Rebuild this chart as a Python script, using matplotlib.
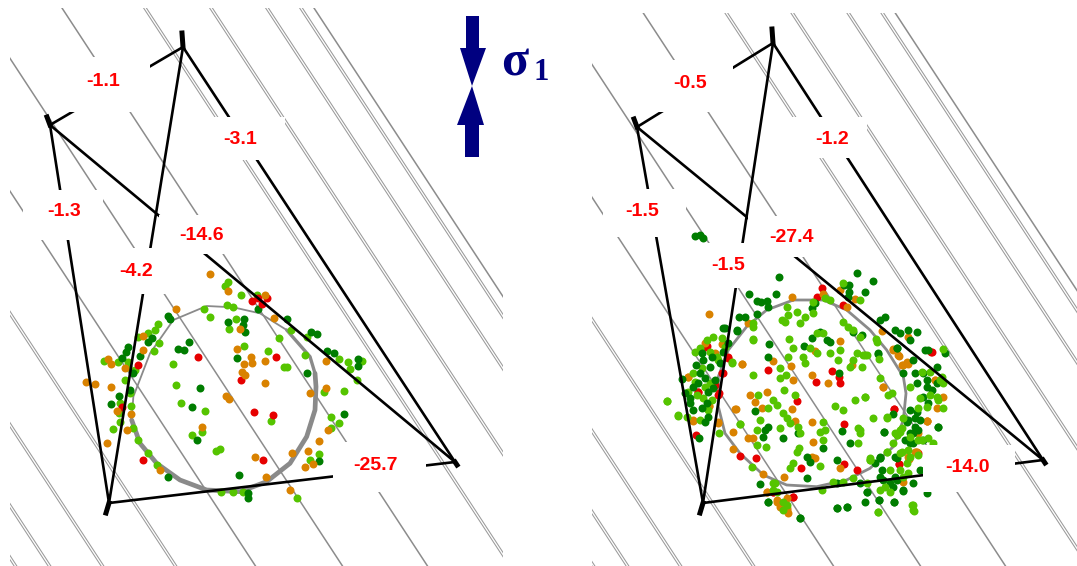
import numpy as np
import matplotlib
matplotlib.use('Agg')
import matplotlib.pyplot as plt
from matplotlib.patches import Polygon, Rectangle

# everything is in image pixels, y going down
DARK = '#007d00'
LIGHT = '#55c400'
ORANGE = '#d98200'
RED = '#e60000'
NAVY = '#000080'

# background lines: x where they cross y=8
BG_SINGLE = [62, -23, -110, 314]
BG_DOUBLE = [145, 211, 267, 301, -190, -263, -316, -350]
BG_SLOPE = 0.655

# triangle corners and their labels
LEFT_CORNERS = [(183, 47), (50, 125), (109, 503), (455, 462)]
RIGHT_CORNERS = [(773, 43), (637, 127), (703, 503), (1043, 460)]
LEFT_LABELS = ['-1.1', '-3.1', '-1.3', '-14.6', '-4.2', '-25.7']
LEFT_LABEL_XY = [(103, 81), (240, 140), (64, 212), (202, 235), (136, 271), (375, 465)]
LEFT_BOXES = [(62, 57, 150, 112), (205, 117, 285, 160), (23, 190, 103, 240),
              (159, 215, 250, 254), (107, 248, 170, 294), (333, 442, 426, 492)]
RIGHT_LABELS = ['-0.5', '-1.2', '-1.5', '-27.4', '-1.5', '-14.0']
RIGHT_LABEL_XY = [(690, 83), (832, 139), (642, 212), (792, 238), (728, 265), (967, 468)]
RIGHT_BOXES = [(650, 60, 733, 112), (792, 117, 867, 158), (603, 189, 686, 237),
               (748, 216, 837, 257), (688, 243, 770, 288), (923, 445, 1015, 492)]

LEFT_CIRCLE_THIN = [(395, 570), (400, 500), (450, 370), (520, 270), (620, 228), (700, 232),
                    (780, 250), (860, 300)]
LEFT_CIRCLE_MID = [(860, 300), (930, 380), (945, 430)]
LEFT_CIRCLE_THICK = [(945, 430), (948, 470), (945, 540), (920, 620), (870, 700), (800, 755),
                     (720, 785), (620, 780), (540, 750), (470, 700), (420, 640), (395, 570)]
RIGHT_CIRCLE = [(460, 240), (380, 270), (320, 320), (265, 390), (235, 470), (235, 560),
                (255, 640), (300, 700), (370, 765), (440, 795), (530, 800), (620, 780),
                (690, 745), (760, 680), (790, 600), (798, 520), (790, 470), (740, 390),
                (690, 330), (620, 270), (550, 240), (460, 240)]

# left panel points, crop at (0, 230)
LEFT_ORANGE = [(630, 132), (683, 182), (795, 195), (529, 238), (822, 263), (428, 317), (428, 360),
               (720, 297), (712, 358), (752, 380), (756, 398), (731, 402), (794, 393), (727, 425),
               (736, 435), (794, 460), (978, 393), (978, 475), (930, 489), (678, 497), (688, 507),
               (258, 456), (284, 461), (332, 470), (325, 388), (332, 403), (375, 415), (350, 542),
               (394, 552), (606, 591), (380, 600), (321, 638), (958, 634), (876, 668), (924, 663),
               (766, 682), (938, 701), (914, 711), (481, 720), (799, 741), (871, 779), (985, 600)]
LEFT_RED = [(593, 382), (828, 382), (722, 451), (761, 547), (819, 556), (790, 691), (428, 691),
            (415, 405), (755, 212), (775, 205), (800, 205), (785, 222), (365, 530)]
LEFT_DARK = [(503, 258), (510, 268), (683, 276), (732, 267), (730, 285), (735, 305), (568, 335),
             (533, 358), (553, 360), (712, 383), (601, 475), (577, 532), (591, 630), (775, 237),
             (862, 267), (932, 305), (950, 312), (982, 363), (1001, 370), (1075, 388), (1075, 407),
             (921, 428), (1031, 552), (358, 498), (332, 522), (385, 350), (378, 365), (365, 385),
             (420, 378), (455, 325), (445, 335), (717, 736), (505, 740), (745, 790), (745, 805),
             (958, 692), (390, 480), (400, 430)]
LEFT_LIGHT = [(685, 155), (675, 168), (722, 195), (770, 195), (611, 238), (680, 224), (698, 230),
              (629, 262), (708, 267), (688, 296), (475, 283), (465, 300), (445, 310), (415, 320),
              (476, 340), (461, 363), (838, 325), (872, 300), (922, 322), (732, 349), (804, 364),
              (519, 402), (915, 374), (852, 412), (862, 412), (1016, 388), (1045, 397), (1050, 418),
              (1085, 392), (1070, 450), (1031, 484), (972, 487), (529, 465), (544, 518), (616, 543),
              (993, 562), (1016, 580), (993, 595), (814, 572), (605, 605), (577, 615), (660, 658),
              (648, 664), (958, 672), (930, 690), (443, 668), (414, 629), (400, 595), (340, 596),
              (470, 704), (664, 785), (700, 785), (730, 785), (891, 803), (312, 393), (355, 397),
              (385, 395), (405, 420), (375, 450), (390, 490), (360, 520), (393, 528), (358, 550),
              (360, 575), (385, 410)]

# right panel points, crop at (640, 220)
MID_DARK = [(165, 48), (180, 45), (190, 55), (418, 170), (651, 160), (700, 184), (627, 195),
            (612, 195), (628, 215), (625, 230), (675, 217), (326, 222), (350, 243), (362, 247),
            (380, 243), (407, 222), (385, 262), (315, 292), (298, 292), (350, 283), (525, 250),
            (515, 265), (255, 325), (292, 332), (735, 290), (720, 300), (765, 330), (780, 340),
            (805, 330), (830, 335), (810, 360), (855, 390), (771, 384), (713, 402), (515, 353),
            (540, 335), (560, 360), (570, 365), (640, 335), (665, 345), (493, 378), (388, 373),
            (385, 410), (598, 460), (345, 573), (375, 630), (370, 650), (385, 620), (428, 655),
            (473, 640), (605, 632), (733, 636), (630, 670), (550, 685), (500, 710), (510, 725),
            (590, 720), (500, 775), (360, 793), (383, 845), (592, 865), (622, 860), (480, 893),
            (763, 845), (717, 840), (680, 815), (790, 810), (820, 790), (840, 750), (720, 715),
            (770, 715), (178, 655), (660, 790), (590, 790), (765, 770), (730, 780), (750, 790)]
MID_LIGHT = [(338, 358), (447, 358), (460, 383), (445, 410), (425, 300), (440, 260), (445, 285),
             (470, 275), (495, 290), (480, 310), (435, 305), (520, 280), (610, 190), (660, 240),
             (555, 235), (570, 240), (520, 245), (610, 305), (625, 320), (640, 330), (660, 350),
             (708, 358), (670, 405), (650, 400), (640, 420), (630, 440), (680, 405), (530, 340),
             (550, 340), (510, 385), (530, 400), (570, 400), (490, 410), (495, 430), (600, 390),
             (595, 420), (340, 465), (420, 445), (437, 465), (420, 475), (432, 510), (465, 525),
             (400, 540), (410, 555), (385, 565), (355, 525), (420, 625), (360, 600), (350, 630),
             (300, 612), (440, 595), (450, 610), (475, 620), (480, 640), (430, 580), (277, 428),
             (338, 322), (82, 544), (115, 586), (238, 640), (378, 680), (350, 675), (540, 635),
             (555, 630), (550, 605), (550, 660), (655, 625), (660, 640), (655, 670), (478, 685),
             (470, 695), (460, 730), (450, 745), (540, 738), (645, 540), (675, 530), (585, 558),
             (610, 570), (742, 592), (780, 630), (770, 645), (740, 695), (690, 720), (335, 742),
             (405, 790), (400, 810), (545, 810), (580, 785), (610, 785), (640, 775), (714, 875),
             (815, 855), (820, 870), (430, 845), (440, 855), (680, 790)]
MID_ORANGE = [(208, 281), (325, 310), (248, 372), (305, 432), (398, 422), (452, 437), (515, 465),
              (563, 490), (460, 480), (525, 393), (601, 364), (636, 436), (728, 500), (775, 405),
              (760, 390), (800, 425), (785, 435), (725, 332), (330, 525), (345, 545), (365, 565),
              (380, 515), (287, 568), (457, 568), (465, 603), (515, 606), (280, 635), (325, 655),
              (340, 655), (518, 665), (515, 710), (525, 715), (280, 688), (370, 762), (432, 772),
              (550, 222), (455, 232), (600, 210), (645, 237), (620, 262), (805, 350), (885, 480),
              (860, 602), (825, 695), (410, 845), (440, 870), (380, 815), (145, 470), (160, 602),
              (208, 558), (235, 605), (600, 745)]
MID_RED = [(197, 380), (264, 413), (248, 460), (383, 451), (471, 544), (529, 485), (576, 452),
           (598, 470), (600, 490), (612, 612), (763, 568), (168, 645), (300, 708), (349, 713),
           (482, 743), (612, 733), (650, 750), (778, 733), (398, 815), (458, 830), (545, 205),
           (530, 232), (610, 255), (875, 395), (835, 700), (175, 515), (238, 520)]

# left cluster of the right panel, crop at (660, 320)
WEST_DARK = [(65, 178), (75, 220), (90, 235), (100, 270), (125, 265), (145, 290), (135, 305),
             (108, 135), (125, 100), (130, 120), (155, 110), (150, 140), (120, 160), (115, 190),
             (135, 175), (165, 180), (160, 205), (100, 200), (145, 215), (180, 130), (190, 25),
             (230, 30), (205, 70), (190, 95), (140, 250), (90, 250)]
WEST_LIGHT = [(105, 95), (120, 85), (140, 60), (160, 50), (185, 55), (195, 80), (150, 95),
              (170, 110), (100, 160), (105, 185), (125, 145), (135, 200), (150, 190), (85, 215),
              (110, 225), (130, 235), (155, 240), (175, 120), (215, 125), (22, 243), (55, 288),
              (80, 290), (120, 300), (145, 270), (240, 313), (280, 60), (280, 10)]
WEST_ORANGE = [(187, 72), (135, 70), (85, 170), (148, 258), (100, 300), (165, 100), (225, 267),
               (245, 132), (175, 308)]
WEST_RED = [(140, 78), (205, 112), (185, 160), (115, 215), (175, 225), (165, 195)]

# right cluster of the right panel, crop at (860, 340)
EAST_DARK = [(55, 40), (110, 25), (160, 60), (130, 100), (165, 100), (190, 100), (205, 30),
             (230, 80), (255, 40), (200, 140), (215, 150), (170, 130), (190, 170), (230, 130),
             (205, 190), (150, 210), (165, 235), (140, 245), (165, 260), (180, 240), (150, 280),
             (135, 300), (160, 310), (190, 300), (72, 275), (233, 262), (100, 222), (60, 352),
             (105, 350), (200, 120), (170, 215)]
EAST_LIGHT = [(15, 45), (5, 80), (58, 58), (60, 115), (95, 160), (14, 170), (85, 165), (150, 140),
              (185, 95), (210, 95), (250, 28), (240, 120), (250, 130), (230, 170), (210, 165),
              (180, 175), (200, 200), (235, 180), (175, 205), (250, 205), (130, 235), (125, 265),
              (110, 285), (100, 310), (80, 335), (150, 290), (185, 300), (38, 233), (82, 233),
              (0, 270), (125, 335), (145, 330), (175, 345), (30, 355), (218, 310), (50, 5),
              (245, 110)]
EAST_ORANGE = [(100, 28), (118, 47), (130, 75), (143, 72), (68, 140), (225, 120), (232, 205),
               (200, 243), (170, 335), (145, 352), (248, 170), (175, 280)]
EAST_RED = [(213, 37), (102, 207)]

# bottom of the right panel, crop at (560, 300)
SOUTH_DARK = [(960, 475), (945, 490), (965, 510), (960, 530), (1010, 540), (1030, 572), (920, 575),
              (915, 605), (958, 600), (1003, 605), (832, 625), (862, 620), (1100, 580), (1045, 360),
              (1060, 400), (1050, 430), (1075, 390), (1133, 382), (1000, 560), (625, 605), (720, 655)]
SOUTH_LIGHT = [(930, 480), (990, 510), (1020, 510), (1040, 490), (1045, 520), (1030, 530), (975, 560),
               (960, 570), (990, 575), (955, 635), (1060, 615), (1062, 632), (1020, 460), (1050, 470),
               (1005, 400), (1020, 395), (1075, 420), (1115, 440), (1105, 415), (670, 630), (640, 550),
               (650, 575)]
SOUTH_ORANGE = [(1047, 478), (1068, 455), (1100, 362), (1030, 545), (660, 620), (680, 625), (650, 600),
                (680, 595), (620, 575), (683, 638)]
SOUTH_RED = [(1017, 493), (1070, 460), (640, 575), (700, 590)]


def crop(points, x0, y0):
    pts = np.array(points, dtype=float)
    return pts[:, 0] / 3 + x0, pts[:, 1] / 3 + y0


def draw_background(ax, shift, clip_box):
    clip = Rectangle((clip_box[0], clip_box[1]), clip_box[2] - clip_box[0], clip_box[3] - clip_box[1],
                     transform=ax.transData)
    ys = np.array([0, 566])
    for x0 in BG_SINGLE:
        line, = ax.plot(x0 + shift + BG_SLOPE * (ys - 8), ys, color='#8c8c8c', lw=1.1, zorder=1)
        line.set_clip_path(clip)
    for x0 in BG_DOUBLE:
        for off in (-1.4, 1.4):
            line, = ax.plot(x0 + off + shift + BG_SLOPE * (ys - 8), ys, color='#9a9a9a', lw=0.75, zorder=1)
            line.set_clip_path(clip)


def draw_triangle(ax, corners, labels, label_xy, boxes):
    for i in range(4):
        for j in range(i + 1, 4):
            ax.plot([corners[i][0], corners[j][0]], [corners[i][1], corners[j][1]],
                    color='black', lw=1.9, zorder=5, solid_capstyle='round')
    for (x, y), (dx, dy) in zip(corners, [(-1, -14), (-3, -8), (-3, 10), (2, 3)]):
        ax.plot([x, x + dx], [y, y + dy], color='black', lw=3.6, zorder=5)
    for (x1, y1, x2, y2) in boxes:
        ax.add_patch(Rectangle((x1, y1), x2 - x1, y2 - y1, facecolor='white', edgecolor='none', zorder=6))
    for text, (x, y) in zip(labels, label_xy):
        ax.text(x, y, text, color='#ff0000', fontsize=14, fontweight='bold', family='Liberation Sans',
                ha='center', va='center', zorder=7)


def dots(ax, xy, color, z):
    ax.scatter(xy[0], xy[1], s=33, color=color, linewidths=0, zorder=z)


fig = plt.figure(figsize=(10.77, 5.66), dpi=100)
ax = fig.add_axes([0, 0, 1, 1])
ax.set_xlim(0, 1077)
ax.set_ylim(566, 0)
ax.axis('off')

draw_background(ax, 0, (10, 8, 503, 566))
draw_background(ax, 578, (592, 13, 1077, 566))

# left panel
for arc, width in ((LEFT_CIRCLE_THIN, 1.3), (LEFT_CIRCLE_MID, 2.4), (LEFT_CIRCLE_THICK, 3.4)):
    x, y = crop(arc, 0, 230)
    ax.plot(x, y, color='#8a8a8a', lw=width, zorder=2, solid_capstyle='round')
dots(ax, crop(LEFT_LIGHT, 0, 230), LIGHT, 3.0)
dots(ax, crop(LEFT_DARK, 0, 230), DARK, 3.1)
dots(ax, crop(LEFT_RED, 0, 230), RED, 3.2)
dots(ax, crop(LEFT_ORANGE, 0, 230), ORANGE, 3.3)

# right panel
x, y = crop(RIGHT_CIRCLE, 640, 220)
ax.plot(x, y, color='#8a8a8a', lw=2.0, zorder=2)
for reds, oranges, darks, lights, x0, y0 in (
        (MID_RED, MID_ORANGE, MID_DARK, MID_LIGHT, 640, 220),
        (SOUTH_RED, SOUTH_ORANGE, SOUTH_DARK, SOUTH_LIGHT, 560, 300),
        (EAST_RED, EAST_ORANGE, EAST_DARK, EAST_LIGHT, 860, 340)):
    dots(ax, crop(reds, x0, y0), RED, 3.0)
    dots(ax, crop(oranges, x0, y0), ORANGE, 3.1)
    dots(ax, crop(darks, x0, y0), DARK, 3.2)
    dots(ax, crop(lights, x0, y0), LIGHT, 3.3)
# in the west cluster the dark dots sit on top
dots(ax, crop(WEST_RED, 660, 320), RED, 3.0)
dots(ax, crop(WEST_ORANGE, 660, 320), ORANGE, 3.1)
dots(ax, crop(WEST_LIGHT, 660, 320), LIGHT, 3.15)
dots(ax, crop(WEST_DARK, 660, 320), DARK, 3.35)

draw_triangle(ax, LEFT_CORNERS, LEFT_LABELS, LEFT_LABEL_XY, LEFT_BOXES)
draw_triangle(ax, RIGHT_CORNERS, RIGHT_LABELS, RIGHT_LABEL_XY, RIGHT_BOXES)

# compression arrows
ax.add_patch(Polygon([(466, 16), (479, 16), (479, 48), (486, 48), (472, 86), (460, 48), (466, 48)],
                     facecolor=NAVY, edgecolor='none', zorder=8))
ax.add_patch(Polygon([(472, 86), (484, 125), (479, 125), (479, 157), (465, 157), (465, 125), (457, 125)],
                     facecolor=NAVY, edgecolor='none', zorder=8))
ax.text(515, 63, '\u03c3', color=NAVY, fontsize=36, family='Liberation Serif', fontweight='bold',
        ha='center', va='center', zorder=8)
ax.text(541, 73, '1', color=NAVY, fontsize=22, family='Liberation Serif', fontweight='bold',
        ha='center', va='center', zorder=8)

fig.savefig('out.png', dpi=100)
